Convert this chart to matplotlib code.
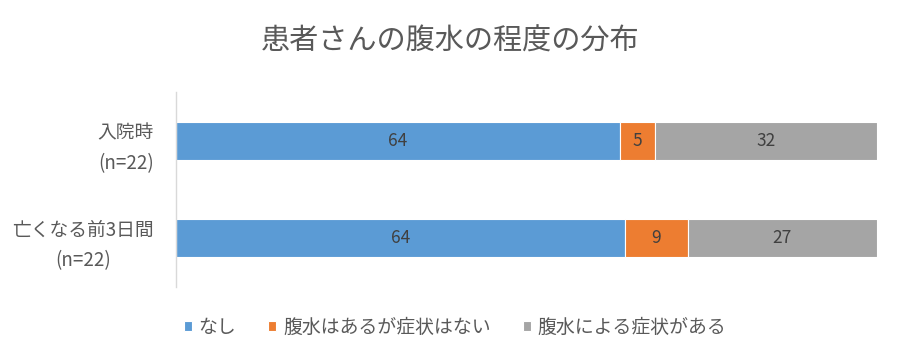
import numpy as np
import matplotlib
matplotlib.use("Agg")
import matplotlib.pyplot as plt

plt.rcParams['font.family'] = ['Noto Sans CJK JP', 'DejaVu Sans']

# データ
categories = ["入院時\n(n=22)", "亡くなる前3日間\n(n=22)"]
series_names = ["なし", "腹水はあるが症状はない", "腹水による症状がある"]
none_vals = [64, 64]
no_symptom_vals = [5, 9]
symptom_vals = [32, 27]
colors = ["#5B9BD5", "#ED7D31", "#A5A5A5"]

fig = plt.figure(figsize=(9, 3.6), dpi=100)
ax = fig.add_axes([176 / 900, 1 - 287 / 360, (877 - 176) / 900, (287 - 92) / 360])

vals = np.array([none_vals, no_symptom_vals, symptom_vals], dtype=float)
totals = vals.sum(axis=0)
y = np.arange(len(categories))
left = np.zeros(len(categories))
for name, v, c in zip(series_names, vals, colors):
    frac = v / totals
    ax.barh(y, frac, left=left, height=0.39, color=c, label=name,
            edgecolor="white", linewidth=0.8)
    for yi, l, f, raw in zip(y, left, frac, v):
        ax.text(l + f / 2, yi, f"{raw:g}", ha="center", va="center",
                fontsize=12.5, color="#404040")
    left += frac

ax.set_xlim(0, 1)
ax.set_ylim(len(categories) - 0.5, -0.5)
ax.set_yticks(y)
labels = ax.set_yticklabels(categories, fontsize=13.5, color="#595959", linespacing=1.6)
for t in labels:
    t.set_multialignment("center")
ax.tick_params(axis="y", length=0, pad=16)
ax.set_xticks([])
for s in ["top", "right", "bottom"]:
    ax.spines[s].set_visible(False)
ax.spines["left"].set_color("#D9D9D9")
ax.spines["left"].set_linewidth(1)

fig.suptitle("患者さんの腹水の程度の分布", x=0.5, y=1 - 42 / 360, va="center",
             fontsize=21, color="#595959")

fig.legend(loc="center", bbox_to_anchor=(455 / 900, 1 - 327 / 360), ncol=3, frameon=False,
           fontsize=13.6, labelcolor="#595959", handlelength=0.42, handleheight=0.42,
           handletextpad=0.35, columnspacing=1.7)

fig.savefig("out.png", dpi=100)
